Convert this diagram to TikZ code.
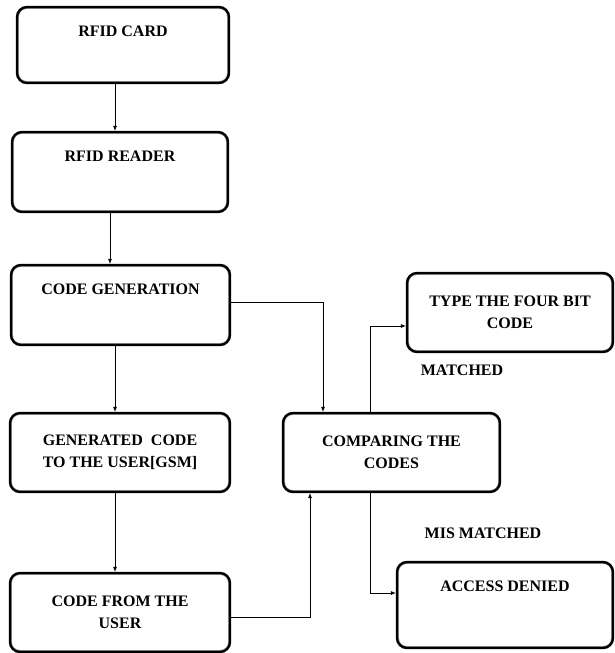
\documentclass[tikz,border=0pt]{standalone}
\usepackage{fontspec}
\setmainfont{Liberation Serif}
\usetikzlibrary{arrows.meta, positioning, calc}

\begin{document}
\begin{tikzpicture}[
  x=1pt, y=-1pt,
  box/.style={draw, line width=2.4pt, rounded corners=10pt, align=center, inner sep=0pt,
    font=\fontsize{16}{22}\selectfont\bfseries,
    append after command={\pgfextra{\draw[black!45, line width=0.9pt, rounded corners=8pt]
      ([shift={(2.7pt,-2.7pt)}]\tikzlastnode.north west) rectangle ([shift={(-2.7pt,2.7pt)}]\tikzlastnode.south east);}}},
  oneline/.style={text height=29pt, text depth=#1},
  lbl/.style={font=\fontsize{16}{22}\selectfont\bfseries},
  arr/.style={-{Latex[length=5pt,width=4pt]}, line width=0.6pt},
]
\useasboundingbox (0,0) rectangle (615,653);

\node[box, oneline=47pt, minimum width=212pt, minimum height=76pt] (card)     at (123,45)    {RFID CARD};
\node[box, oneline=51pt, minimum width=216pt, minimum height=80pt] (reader)   at (120,172)   {RFID READER};
\node[box, oneline=51pt, minimum width=219pt, minimum height=80pt] (gen)      at (120.5,305) {CODE GENERATION};
\node[box, minimum width=220pt, minimum height=79pt]               (gsm)      at (120,452.5) {GENERATED\ \ CODE\\TO THE USER[GSM]};
\node[box, minimum width=220pt, minimum height=79pt]               (fromuser) at (120,612.5) {CODE FROM THE\\USER};
\node[box, minimum width=217pt, minimum height=79pt]               (compare)  at (391.5,452.5) {COMPARING THE\\CODES};
\node[box, minimum width=206pt, minimum height=79pt]               (fourbit)  at (510,312.5) {TYPE THE FOUR BIT\\CODE};
\node[box, oneline=57pt, minimum width=216pt, minimum height=86pt] (denied)   at (505,605)   {ACCESS DENIED};

\node[lbl] (matched)    at (462,370) {MATCHED};
\node[lbl] (mismatched) at (483,533) {MIS MATCHED};

\draw[arr] ([xshift=-8pt]card.south) -- ([xshift=-8pt]card.south |- reader.north);
\draw[arr] ([xshift=-10pt]reader.south) -- ([xshift=-10pt]reader.south |- gen.north);
\draw[arr] ([xshift=-5.5pt]gen.south) -- ([xshift=-5.5pt]gen.south |- gsm.north);
\draw[arr] ([xshift=-5pt]gsm.south) -- ([xshift=-5pt]gsm.south |- fromuser.north);
\draw[arr] ([yshift=3pt]gen.east) -| ([xshift=-68.5pt]compare.north);
\draw[arr] ([yshift=-4.5pt]fromuser.east) -| ([xshift=-81.5pt]compare.south);
\draw[arr] ([xshift=-21.5pt]compare.north) |- ([yshift=-13.5pt]fourbit.west);
\draw[arr] ([xshift=-21.5pt]compare.south) |- ([yshift=12pt]denied.west);
\end{tikzpicture}
\end{document}
